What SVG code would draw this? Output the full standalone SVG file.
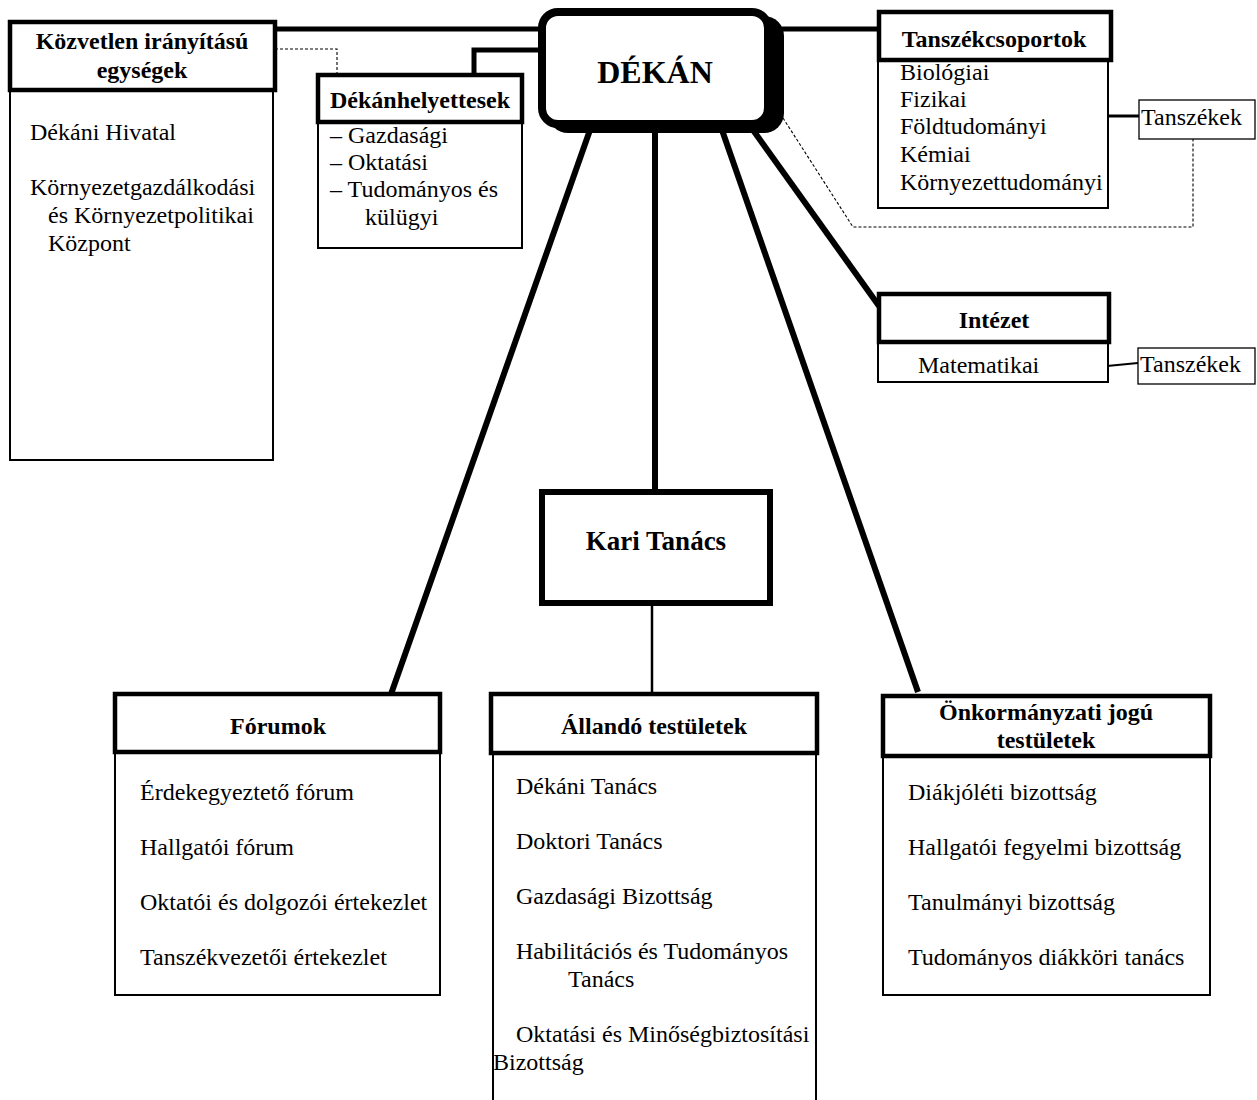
<svg xmlns="http://www.w3.org/2000/svg" width="1257" height="1100" viewBox="0 0 1257 1100">
<style>
text{font-family:"Liberation Serif","Times New Roman",serif;fill:#000}
.b{font-weight:bold;font-size:24px}
.t{font-size:24px}
.hd{fill:#fff;stroke:#000;stroke-width:4.5}
.bd{fill:#fff;stroke:#000;stroke-width:2}
.thin{fill:#fff;stroke:#000;stroke-width:1.3}
.c{stroke:#000;fill:none}
.d{stroke:#000;fill:none;stroke-width:1.1;stroke-dasharray:3,2}
</style>
<rect width="1257" height="1100" fill="#fff"/>
<g id="connectors">
<path class="c" stroke-width="5" d="M275 29 H542"/>
<path class="c" stroke-width="5" d="M542 50 H474 V74"/>
<path class="c" stroke-width="5" d="M770 29 H880"/>
<path class="d" d="M275 49 H337 V74"/>
<path class="d" d="M783 118 L853 227 H1193 V139"/>
<path class="c" stroke-width="3" d="M1108 116 H1139"/>
<path class="c" stroke-width="2" d="M1107 366 L1138 363"/>
<path class="c" stroke-width="6" d="M753 130 L879 306"/>
<path class="c" stroke-width="6" d="M722 130 L918 692"/>
<path class="c" stroke-width="6" d="M655 130 V490"/>
<path class="c" stroke-width="6" d="M590 130 L390 697"/>
<path class="c" stroke-width="2.5" d="M652 606 V692"/>
</g>
<g id="kozvetlen">
<rect class="bd" x="10" y="90" width="263" height="370"/>
<rect class="hd" x="10" y="22" width="265" height="68"/>
<text class="b" x="142" y="49" text-anchor="middle">Közvetlen irányítású</text>
<text class="b" x="142" y="78" text-anchor="middle">egységek</text>
<text class="t" x="30" y="140">Dékáni Hivatal</text>
<text class="t" x="30" y="195">Környezetgazdálkodási</text>
<text class="t" x="48" y="223">és Környezetpolitikai</text>
<text class="t" x="48" y="251">Központ</text>
</g>
<g id="dekanhelyettesek">
<rect class="bd" x="318" y="122" width="204" height="126"/>
<rect class="hd" x="318" y="75" width="204" height="47"/>
<text class="b" x="420" y="108" text-anchor="middle">Dékánhelyettesek</text>
<text class="t" x="330" y="143">– Gazdasági</text>
<text class="t" x="330" y="170">– Oktatási</text>
<text class="t" x="330" y="197">– Tudományos és</text>
<text class="t" x="365" y="225">külügyi</text>
</g>
<g id="dekan">
<rect x="548" y="16" width="236" height="117" rx="20" fill="#000"/>
<rect x="542" y="12" width="226" height="112" rx="16" fill="#fff" stroke="#000" stroke-width="8"/>
<text x="655" y="83" text-anchor="middle" font-weight="bold" font-size="32">DÉKÁN</text>
</g>
<g id="tanszekcsoportok">
<rect class="bd" x="878" y="60" width="230" height="148"/>
<rect class="hd" x="879" y="12" width="232" height="48"/>
<text class="b" x="994" y="47" text-anchor="middle">Tanszékcsoportok</text>
<text class="t" x="900" y="80">Biológiai</text>
<text class="t" x="900" y="107">Fizikai</text>
<text class="t" x="900" y="134">Földtudományi</text>
<text class="t" x="900" y="162">Kémiai</text>
<text class="t" x="900" y="190">Környezettudományi</text>
</g>
<g id="tanszekek1">
<rect class="thin" x="1139" y="100" width="116" height="39"/>
<text class="t" x="1141" y="125">Tanszékek</text>
</g>
<g id="intezet">
<rect class="bd" x="878" y="342" width="230" height="40"/>
<rect class="hd" x="879" y="294" width="230" height="48"/>
<text class="b" x="994" y="328" text-anchor="middle">Intézet</text>
<text class="t" x="918" y="373">Matematikai</text>
</g>
<g id="tanszekek2">
<rect class="thin" x="1138" y="348" width="117" height="36"/>
<text class="t" x="1140" y="372">Tanszékek</text>
</g>
<g id="kari">
<rect x="542" y="492" width="228" height="111" fill="#fff" stroke="#000" stroke-width="6"/>
<text x="656" y="550" text-anchor="middle" font-weight="bold" font-size="27">Kari Tanács</text>
</g>
<g id="forumok">
<rect class="bd" x="115" y="752" width="325" height="243"/>
<rect class="hd" x="115" y="694" width="325" height="58"/>
<text class="b" x="278" y="734" text-anchor="middle">Fórumok</text>
<text class="t" x="140" y="800">Érdekegyeztető fórum</text>
<text class="t" x="140" y="855">Hallgatói fórum</text>
<text class="t" x="140" y="910">Oktatói és dolgozói értekezlet</text>
<text class="t" x="140" y="965">Tanszékvezetői értekezlet</text>
</g>
<g id="allando">
<rect class="bd" x="493" y="752" width="323" height="352"/>
<rect class="hd" x="491" y="694" width="326" height="59"/>
<text class="b" x="654" y="734" text-anchor="middle">Állandó testületek</text>
<text class="t" x="516" y="794">Dékáni Tanács</text>
<text class="t" x="516" y="849">Doktori Tanács</text>
<text class="t" x="516" y="904">Gazdasági Bizottság</text>
<text class="t" x="516" y="959">Habilitációs és Tudományos</text>
<text class="t" x="568" y="987">Tanács</text>
<text class="t" x="516" y="1042">Oktatási és Minőségbiztosítási</text>
<text class="t" x="493" y="1070">Bizottság</text>
</g>
<g id="onkormanyzati">
<rect class="bd" x="883" y="756" width="327" height="239"/>
<rect class="hd" x="883" y="696" width="327" height="60"/>
<text class="b" x="1046" y="720" text-anchor="middle">Önkormányzati jogú</text>
<text class="b" x="1046" y="748" text-anchor="middle">testületek</text>
<text class="t" x="908" y="800">Diákjóléti bizottság</text>
<text class="t" x="908" y="855">Hallgatói fegyelmi bizottság</text>
<text class="t" x="908" y="910">Tanulmányi bizottság</text>
<text class="t" x="908" y="965">Tudományos diákköri tanács</text>
</g>
</svg>
